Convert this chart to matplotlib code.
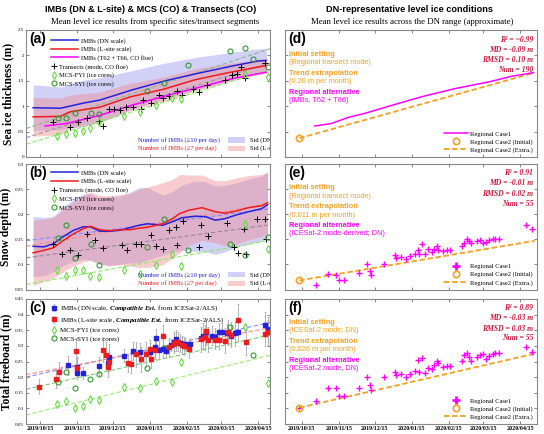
import matplotlib
matplotlib.use('Agg')
import matplotlib.pyplot as plt
from matplotlib.patches import Rectangle
from matplotlib.lines import Line2D
from matplotlib.legend_handler import HandlerLine2D

plt.rcParams['font.family'] = ['Liberation Serif', 'DejaVu Serif']
plt.rcParams['mathtext.fontset'] = 'custom'
plt.rcParams['mathtext.rm'] = 'Liberation Serif'
plt.rcParams['mathtext.it'] = 'Liberation Serif:italic'
plt.rcParams['mathtext.bf'] = 'Liberation Serif:italic:bold'
SANS = ['Liberation Sans', 'DejaVu Sans']

# x values: days since 2019/10/15
tick_days = [0, 31, 61, 92, 123, 152, 183]
tick_labels = ['2019/10/15', '2019/11/15', '2019/12/15', '2020/01/15',
               '2020/02/15', '2020/03/15', '2020/04/15']

# ---- (a) sea ice thickness ----
thk_days = [-6, 17, 36, 50, 77, 105, 133, 161, 183, 190]
thk_dn = [0.97, 0.96, 1.06, 1.12, 1.32, 1.50, 1.65, 1.79, 1.89, 1.90]
thk_dn_std = [0.45, 0.42, 0.45, 0.44, 0.38, 0.35, 0.32, 0.27, 0.24, 0.24]
thk_ls_days = [-6, 17, 25, 50, 75, 103, 130, 158, 185, 190]
thk_ls = [0.79, 0.80, 0.89, 0.98, 1.18, 1.33, 1.52, 1.66, 1.78, 1.80]
thk_ls_std = [0.38, 0.36, 0.33, 0.30, 0.27, 0.24, 0.22, 0.18, 0.15, 0.15]
thk_co_days = [4, 22, 50, 77, 105, 133, 161, 183, 190]
thk_co = [0.61, 0.66, 0.82, 1.02, 1.20, 1.37, 1.54, 1.64, 1.67]
thk_tr_days = [11, 25, 32, 39, 49, 53, 58, 62, 67, 72, 78, 85, 86, 93, 100, 103,
               108, 115, 119, 128, 133, 140, 155, 161, 165, 169, 172, 189]
thk_tr = [0.68, 0.60, 0.68, 0.77, 0.71, 0.61, 0.94, 0.94, 0.93, 0.98, 0.98, 0.94,
          1.12, 1.07, 1.22, 1.16, 1.20, 1.29, 1.22, 1.33, 1.27, 1.42, 1.52, 1.61,
          1.63, 1.78, 1.56, 1.86]
fyi_days = [14, 22, 29, 36, 42, 49, 70, 84, 97, 111, 118, 172, 191]
thk_fyi = [0.42, 0.45, 0.48, 0.52, 0.57, 0.69, 0.81, 0.89, 1.02, 1.17, 1.14, 1.63, 1.58]
syi_days = [15, 22, 29, 43, 49, 90, 104, 124, 159, 172, 179, 191]
thk_syi = [0.76, 0.77, 0.87, 0.86, 0.85, 1.30, 1.46, 1.81, 2.09, 2.14, 1.92, 1.77]
fit_days = [-12, 193]
thk_fit_tr = [0.38, 1.85]
thk_fit_fyi = [0.25, 1.72]
thk_fit_syi = [0.56, 2.13]

# ---- (b) snow depth ----
snw_dn_days = [-6, 3, 11, 19, 28, 36, 42, 50, 58, 67, 75, 83, 90, 103, 111, 119,
               130, 139, 147, 155, 164, 175, 186, 191]
snw_dn = [0.136, 0.135, 0.141, 0.155, 0.168, 0.175, 0.175, 0.166, 0.166, 0.168,
          0.173, 0.178, 0.181, 0.178, 0.185, 0.193, 0.196, 0.195, 0.188, 0.191,
          0.198, 0.205, 0.211, 0.219]
snw_dn_std = [0.060, 0.058, 0.055, 0.058, 0.062, 0.065, 0.066, 0.066, 0.068, 0.068,
              0.070, 0.075, 0.072, 0.060, 0.060, 0.065, 0.070, 0.070, 0.068, 0.066,
              0.064, 0.065, 0.065, 0.065]
snw_ls_days = [-6, 3, 11, 19, 28, 36, 42, 50, 58, 67, 75, 83, 90, 103, 111, 117,
               125, 136, 147, 155, 164, 175, 186, 191]
snw_ls = [0.123, 0.128, 0.133, 0.147, 0.161, 0.171, 0.176, 0.169, 0.167, 0.169,
          0.169, 0.172, 0.174, 0.181, 0.191, 0.201, 0.208, 0.213, 0.205, 0.202,
          0.206, 0.213, 0.217, 0.223]
snw_ls_std = [0.065, 0.062, 0.060, 0.062, 0.064, 0.066, 0.068, 0.068, 0.070, 0.070,
              0.072, 0.078, 0.080, 0.082, 0.078, 0.078, 0.070, 0.065, 0.062, 0.065,
              0.066, 0.064, 0.062, 0.060]
snw_tr_days = [11, 18, 25, 32, 39, 46, 53, 69, 73, 80, 85, 93, 97, 103, 108, 114,
               115, 120, 133, 135, 141, 157, 163, 166, 171, 173, 182, 189, 190]
snw_tr = [0.140, 0.120, 0.129, 0.119, 0.161, 0.148, 0.133, 0.138, 0.128, 0.141,
          0.140, 0.158, 0.136, 0.131, 0.168, 0.175, 0.138, 0.186, 0.135, 0.178,
          0.157, 0.183, 0.135, 0.123, 0.171, 0.121, 0.191, 0.190, 0.151]
snw_fyi = [0.089, 0.077, 0.089, 0.089, 0.077, 0.074, 0.089, 0.080, 0.098, 0.121,
           0.097, 0.180, 0.130]
snw_syi_days = [15, 22, 29, 43, 49, 90, 104, 124, 159, 172, 191]
snw_syi = [0.152, 0.178, 0.112, 0.141, 0.098, 0.135, 0.191, 0.128, 0.141, 0.118, 0.155]
snw_fit_dn = [0.147, 0.211]
snw_fit_ls = [0.136, 0.221]
snw_fit_tr = [0.113, 0.179]
snw_fit_fyi = [0.060, 0.148]

# ---- (c) total freeboard ----
fb_dn_days = [23, 31, 31, 36, 49, 57, 58, 70, 78, 84, 92, 96, 97, 100, 103, 106,
              110, 112, 114, 117, 119, 122, 126, 135, 137, 139, 144, 147, 150, 153,
              157, 160, 164, 166, 189, 191]
fb_dn = [0.238, 0.234, 0.213, 0.213, 0.236, 0.245, 0.266, 0.269, 0.284, 0.280,
         0.280, 0.296, 0.325, 0.287, 0.290, 0.284, 0.303, 0.314, 0.322, 0.309,
         0.307, 0.305, 0.305, 0.324, 0.332, 0.343, 0.333, 0.328, 0.343, 0.343,
         0.341, 0.333, 0.341, 0.346, 0.368, 0.354]
fb_dn_err = [0.03, 0.03, 0.02, 0.02, 0.03, 0.03, 0.04, 0.02, 0.03, 0.03, 0.03, 0.03,
             0.03, 0.03, 0.03, 0.02, 0.02, 0.03, 0.03, 0.03, 0.02, 0.02, 0.02, 0.03,
             0.04, 0.04, 0.03, 0.03, 0.03, 0.03, 0.03, 0.03, 0.04, 0.03, 0.04, 0.04]
fb_ls_days = [-1, 13, 16, 30, 31, 53, 55, 57, 58, 74, 76, 80, 85, 89, 92, 93, 96,
              103, 108, 112, 114, 116, 119, 121, 125, 135, 138, 139, 141, 147, 150,
              155, 158, 160, 166, 173, 189, 191]
fb_ls = [0.170, 0.195, 0.218, 0.285, 0.230, 0.287, 0.271, 0.232, 0.250, 0.245,
         0.242, 0.274, 0.257, 0.274, 0.290, 0.258, 0.287, 0.332, 0.296, 0.307,
         0.314, 0.314, 0.303, 0.300, 0.290, 0.322, 0.328, 0.347, 0.319, 0.319,
         0.320, 0.317, 0.343, 0.336, 0.384, 0.311, 0.339, 0.343]
fb_ls_err = [0.025, 0.03, 0.03, 0.04, 0.03, 0.04, 0.04, 0.03, 0.03, 0.03, 0.03, 0.04,
             0.04, 0.04, 0.03, 0.03, 0.03, 0.035, 0.03, 0.03, 0.03, 0.03, 0.03, 0.03,
             0.03, 0.04, 0.04, 0.04, 0.04, 0.03, 0.03, 0.04, 0.04, 0.04, 0.05, 0.04,
             0.04, 0.04]
fb_fyi = [0.113, 0.125, 0.100, 0.109, 0.130, 0.126, 0.170, 0.164, 0.189, 0.183,
          0.247, 0.362, 0.180]
fb_syi_days = [15, 22, 29, 42, 49, 90, 104, 124, 159, 179]
fb_syi = [0.184, 0.218, 0.164, 0.194, 0.210, 0.228, 0.293, 0.298, 0.362, 0.271]
fb_fit_dn = [0.200, 0.375]
fb_fit_ls = [0.208, 0.358]
fb_fit_syi = [0.161, 0.335]
fb_fit_fyi = [0.079, 0.270]

# ---- (d)-(f) regional ----
reg_fit_days = [-2, 195]
d_case1_days = [11, 25, 39, 53, 73, 101, 129, 157, 176, 194]
d_case1 = [0.61, 0.66, 0.78, 0.86, 1.00, 1.19, 1.35, 1.48, 1.59, 1.66]
d_case2 = [0.37, 1.66]
reg_days = [12, 22, 29, 31, 35, 48, 55, 57, 58, 69, 78, 79, 83, 87, 91, 95, 97, 98,
            101, 103, 106, 109, 111, 113, 114, 118, 122, 124, 134, 136, 138, 140,
            142, 147, 149, 152, 154, 157, 160, 162, 165, 188, 193]
e_case1 = [0.058, 0.080, 0.079, 0.068, 0.068, 0.083, 0.100, 0.087, 0.078, 0.100,
           0.118, 0.113, 0.115, 0.111, 0.116, 0.120, 0.128, 0.120, 0.141, 0.120,
           0.131, 0.125, 0.131, 0.136, 0.128, 0.127, 0.128, 0.128, 0.136, 0.143,
           0.150, 0.147, 0.143, 0.147, 0.149, 0.143, 0.145, 0.148, 0.150, 0.151,
           0.151, 0.179, 0.171]
e_case2 = [0.068, 0.147]
f_case1 = [0.125, 0.166, 0.164, 0.140, 0.140, 0.164, 0.200, 0.175, 0.159, 0.200,
           0.215, 0.207, 0.210, 0.202, 0.210, 0.221, 0.255, 0.218, 0.261, 0.213,
           0.229, 0.225, 0.239, 0.252, 0.245, 0.232, 0.236, 0.236, 0.253, 0.271,
           0.277, 0.266, 0.253, 0.266, 0.270, 0.275, 0.258, 0.268, 0.275, 0.277,
           0.277, 0.296, 0.282]
f_case2 = [0.102, 0.275]

BLUE = '#2323dd'
RED = '#ee1c1c'
MAG = '#ff00ff'
FYI_C = '#66dd44'
SYI_C = '#339933'
ORANGE = '#f5a020'
CRIMSON = '#c41e3a'
BAND_B = '#9999ee'
BAND_R = '#f08c96'
LEG_FS = 4.7


class RightMarkerHandler(HandlerLine2D):
    """Put a legend marker near the right end of the handle box."""
    def get_xdata(self, legend, xdescent, ydescent, width, height, fontsize):
        xdata = [-xdescent, -xdescent + width]
        return xdata, [-xdescent + width * 0.88]


fig = plt.figure(figsize=(5.44, 4.34), dpi=100)
L0, LW = 26 / 544, 244 / 544
R0, RW = 285 / 544, 252 / 544
rows = [(1 - 157 / 434, 127 / 434), (1 - 289.5 / 434, 125.5 / 434),
        (1 - 424 / 434, 125 / 434)]
ax_a = fig.add_axes([L0, rows[0][0], LW, rows[0][1]])
ax_b = fig.add_axes([L0, rows[1][0], LW, rows[1][1]])
ax_c = fig.add_axes([L0, rows[2][0], LW, rows[2][1]])
ax_d = fig.add_axes([R0, rows[0][0], RW, rows[0][1]])
ax_e = fig.add_axes([R0, rows[1][0], RW, rows[1][1]])
ax_f = fig.add_axes([R0, rows[2][0], RW, rows[2][1]])


def style_axis(ax, xlim, ylim, yticks, show_x, show_y):
    ax.set_xlim(xlim)
    ax.set_ylim(ylim)
    ax.set_xticks(tick_days)
    ax.set_yticks(yticks)
    if show_x:
        ax.set_xticklabels(tick_labels, fontsize=4.3, fontweight='bold')
    else:
        ax.set_xticklabels([])
    if show_y:
        ax.set_yticklabels([f'{t:g}' for t in yticks], fontsize=3.6)
    else:
        ax.set_yticklabels([])
    ax.tick_params(direction='in', top=True, right=True, length=2.5,
                   width=0.5, pad=1.5, colors='#555555', labelcolor='black')
    for sp in ax.spines.values():
        sp.set_color('#888888')
        sp.set_linewidth(0.8)


def keep_legend(ax, leg):
    # detach from ax.legend_ so several legends can live on one axes,
    # each drawn only once
    ax.legend_ = None
    ax.add_artist(leg)


def panel_letter(ax, s):
    ax.text(0.012, 0.985, s, transform=ax.transAxes, ha='left', va='top',
            fontsize=10, fontweight='bold', family=SANS)


def number_legend(ax, y1, y2):
    # std legend sits at the lower right and is clipped by the axes, as in the source
    for y, txt, c, band_c, lab in [(y1, 'Number of IMBs (≥10 per day)', BLUE, BAND_B, 'Std (DN)'),
                                   (y2, 'Number of IMBs (≥7 per day)', RED, BAND_R, 'Std (L-site)')]:
        ax.text(0.459, y, txt, transform=ax.transAxes, color=c, fontsize=LEG_FS,
                va='center')
        ax.add_patch(Rectangle((0.827, y - 0.02), 0.071, 0.04, transform=ax.transAxes,
                               facecolor=band_c, alpha=0.45, edgecolor='none'))
        ax.text(0.918, y, lab, transform=ax.transAxes, fontsize=LEG_FS,
                va='center', clip_on=True)


def line_legend(ax, handles, labels, top):
    leg = ax.legend(handles, labels, loc='upper left', bbox_to_anchor=(0.09, top),
                    fontsize=LEG_FS, frameon=False, handlelength=4.2,
                    labelspacing=0.42, handletextpad=0.45, borderaxespad=0)
    keep_legend(ax, leg)


def marker_legend(ax, handles, labels, top, fs=LEG_FS, spacing=0.42):
    leg = ax.legend(handles, labels, loc='upper left', bbox_to_anchor=(0.09, top),
                    fontsize=fs, frameon=False, handlelength=0.9,
                    labelspacing=spacing, handletextpad=0.4, borderaxespad=0)
    keep_legend(ax, leg)


def band(ax, days, mean, std, color):
    lo = [m - s for m, s in zip(mean, std)]
    hi = [m + s for m, s in zip(mean, std)]
    ax.fill_between(days, lo, hi, color=color, alpha=0.45, lw=0)


mk_tr = dict(ls='none', marker='+', color='black', ms=4, mew=0.7)
mk_fyi = dict(ls='none', marker='d', mfc='none', mec=FYI_C, ms=3.8, mew=0.8)
mk_syi = dict(ls='none', marker='o', mfc='none', mec=SYI_C, ms=3.6, mew=0.8)
DASH = (0, (4, 2))

# (a)
ax = ax_a
band(ax, thk_days, thk_dn, thk_dn_std, BAND_B)
band(ax, thk_ls_days, thk_ls, thk_ls_std, BAND_R)
ax.plot(fit_days, thk_fit_syi, ls=DASH, color='#88bb88', lw=0.8)
ax.plot(fit_days, thk_fit_tr, ls=DASH, color='#999999', lw=0.8)
ax.plot(fit_days, thk_fit_fyi, ls=DASH, color='#88ee66', lw=0.8)
l1, = ax.plot(thk_days, thk_dn, color=BLUE, lw=1.1)
l2, = ax.plot(thk_ls_days, thk_ls, color=RED, lw=1.1)
l3, = ax.plot(thk_co_days, thk_co, color=MAG, lw=1.1)
l4, = ax.plot(thk_tr_days, thk_tr, **mk_tr)
l5, = ax.plot(fyi_days, thk_fyi, **mk_fyi)
l6, = ax.plot(syi_days, thk_syi, **mk_syi)
style_axis(ax, (-12, 193), (0, 2.5), [0, 0.5, 1, 1.5, 2, 2.5], False, True)
line_legend(ax, [l1, l2, l3], ['IMBs (DN scale)', 'IMBs (L-site scale)',
                               'IMBs (T62 + T66, CO floe)'], 0.96)
marker_legend(ax, [l4, l5, l6], ['Transects (mode, CO floe)',
                                 'MCS-FYI (ice cores)', 'MCS-SYI (ice cores)'], 0.755)
number_legend(ax, 0.134, 0.067)
panel_letter(ax, '(a)')
ax.set_ylabel('Sea ice thickness (m)', fontsize=8.3, fontweight='bold', labelpad=2)

# (b)
ax = ax_b
band(ax, snw_dn_days, snw_dn, snw_dn_std, BAND_B)
band(ax, snw_ls_days, snw_ls, snw_ls_std, BAND_R)
ax.plot(fit_days, snw_fit_dn, ls=DASH, color='#8888ff', lw=0.8)
ax.plot(fit_days, snw_fit_ls, ls=DASH, color='#ff8888', lw=0.8)
ax.plot(fit_days, snw_fit_tr, ls=DASH, color='#998899', lw=0.8)
ax.plot(fit_days, snw_fit_fyi, ls=DASH, color='#88ee66', lw=0.8)
l1, = ax.plot(snw_dn_days, snw_dn, color=BLUE, lw=1.1)
l2, = ax.plot(snw_ls_days, snw_ls, color=RED, lw=1.1)
l4, = ax.plot(snw_tr_days, snw_tr, **mk_tr)
l5, = ax.plot(fyi_days, snw_fyi, **mk_fyi)
l6, = ax.plot(snw_syi_days, snw_syi, **mk_syi)
style_axis(ax, (-12, 193), (0.05, 0.3), [0.05, 0.1, 0.15, 0.2, 0.25, 0.3],
           False, True)
line_legend(ax, [l1, l2], ['IMBs (DN scale)', 'IMBs (L-site scale)'], 0.975)
marker_legend(ax, [l4, l5, l6], ['Transects (mode, CO floe)',
                                 'MCS-FYI (ice cores)', 'MCS-SYI (ice cores)'], 0.835)
number_legend(ax, 0.116, 0.048)
panel_letter(ax, '(b)')
ax.set_ylabel('Snow depth (m)', fontsize=8.3, fontweight='bold', labelpad=2)

# (c)
ax = ax_c
ax.plot(fit_days, fb_fit_dn, ls=DASH, color='#8888ff', lw=0.8)
ax.plot(fit_days, fb_fit_ls, ls=DASH, color='#ff8888', lw=0.8)
ax.plot(fit_days, fb_fit_syi, ls=DASH, color='#77cc77', lw=0.8)
ax.plot(fit_days, fb_fit_fyi, ls=DASH, color='#99ee77', lw=0.8)
e1 = ax.errorbar(fb_dn_days, fb_dn, yerr=fb_dn_err, fmt='s', color=BLUE, ms=2.2,
                 ecolor='#aaaaaa', elinewidth=0.6, capsize=0.8, capthick=0.5)
e2 = ax.errorbar(fb_ls_days, fb_ls, yerr=fb_ls_err, fmt='s', color=RED, ms=2.2,
                 ecolor='#aaaaaa', elinewidth=0.6, capsize=0.8, capthick=0.5)
l5, = ax.plot(fyi_days, fb_fyi, **mk_fyi)
l6, = ax.plot(fb_syi_days, fb_syi, **mk_syi)
style_axis(ax, (-12, 193), (0.05, 0.45),
           [0.05, 0.1, 0.15, 0.2, 0.25, 0.3, 0.35, 0.4, 0.45], True, True)
marker_legend(ax, [e1, e2, l5, l6],
              ['IMBs (DN scale, $\\bf{Compatible\\ Est.}$ from ICESat-2/ALS)',
               'IMBs (L-site scale, $\\bf{Compatible\\ Est.}$ from ICESat-2/ALS)',
               'MCS-FYI (ice cores)', 'MCS-SYI (ice cores)'], 0.985, fs=5, spacing=0.3)
panel_letter(ax, '(c)')
ax.set_ylabel('Total freeboard (m)', fontsize=8.3, fontweight='bold', labelpad=2)


def regional_text(ax, init_note, trend_note, alt_note, stats):
    items = [('Initial setting', 'bold', ORANGE, 0.81),
             (init_note, 'normal', ORANGE, 0.745),
             ('Trend extrapolation', 'bold', ORANGE, 0.66),
             (trend_note, 'normal', ORANGE, 0.593),
             ('Regional alternative', 'bold', MAG, 0.51),
             (alt_note, 'normal', MAG, 0.443)]
    for s, w, c, y in items:
        ax.text(0.017, y, s, transform=ax.transAxes, fontsize=5.3, fontweight=w,
                color=c, family=SANS, va='center')
    for s, y in zip(stats, [0.925, 0.845, 0.762, 0.685]):
        ax.text(0.985, y, s, transform=ax.transAxes, fontsize=5.5,
                fontweight='bold', style='italic', color=CRIMSON, ha='right',
                va='center')


def regional_legend(ax, h1):
    h2 = Line2D([], [], ls='none', marker='o', mfc='none', mec=ORANGE, ms=4.5, mew=1.2)
    h3 = Line2D([], [], ls=(0, (3, 1.5)), color=ORANGE, lw=1.3)
    ax.legend([h1, h2, h3], ['Regional Case1', 'Regional Case2 (Initial)',
                             'Regional Case2 (Extra.)'],
              loc='lower right', fontsize=4.7, frameon=False, handlelength=3.8,
              labelspacing=0.35, handletextpad=0.3, borderaxespad=0.2,
              handler_map={Line2D: RightMarkerHandler()})


# (d)
ax = ax_d
ax.plot(reg_fit_days, d_case2, ls=(0, (3, 1.5)), color=ORANGE, lw=1.3)
ax.plot(reg_fit_days[:1], d_case2[:1], ls='none', marker='o', mfc='none',
        mec=ORANGE, ms=4.5, mew=1.2)
ax.plot(d_case1_days, d_case1, color=MAG, lw=1.1)
style_axis(ax, (-14, 197), (0, 2.5), [0, 0.5, 1, 1.5, 2, 2.5], False, False)
regional_text(ax, '(Regional transect mode)', '(0.20 m per month)',
              '(IMBs, T62 + T66)',
              ['R² = ~0.99', 'MD = -0.09 m', 'RMSD = 0.10 m', 'Num = 190'])
regional_legend(ax, Line2D([], [], color=MAG, lw=1.1))
panel_letter(ax, '(d)')

# (e)
ax = ax_e
ax.plot(reg_fit_days, e_case2, ls=(0, (3, 1.5)), color=ORANGE, lw=1.3)
ax.plot(reg_fit_days[:1], e_case2[:1], ls='none', marker='o', mfc='none',
        mec=ORANGE, ms=4.5, mew=1.2)
ax.plot(reg_days, e_case1, ls='none', marker='+', color=MAG, ms=4, mew=1)
style_axis(ax, (-14, 197), (0.05, 0.3), [0.05, 0.1, 0.15, 0.2, 0.25, 0.3],
           False, False)
regional_text(ax, '(Regional transect mode)', '(0.011 m per month)',
              '(ICESat-2 mode-derived; DN)',
              ['R² = 0.91', 'MD = -0.01 m', 'RMSD = 0.02 m', 'Num = 55'])
regional_legend(ax, Line2D([], [], ls='none', marker='+', color=MAG, ms=6, mew=2))
panel_letter(ax, '(e)')

# (f)
ax = ax_f
ax.plot(reg_fit_days, f_case2, ls=(0, (3, 1.5)), color=ORANGE, lw=1.3)
ax.plot(reg_fit_days[:1], f_case2[:1], ls='none', marker='o', mfc='none',
        mec=ORANGE, ms=4.5, mew=1.2)
ax.plot(reg_fit_days[:1], f_case2[:1], ls='none', marker='+', color=MAG, ms=3, mew=0.8)
ax.plot(reg_days, f_case1, ls='none', marker='+', color=MAG, ms=4, mew=1)
style_axis(ax, (-14, 197), (0.05, 0.45),
           [0.05, 0.1, 0.15, 0.2, 0.25, 0.3, 0.35, 0.4, 0.45], True, False)
regional_text(ax, '(ICESat-2 mode; DN)', '(0.026 m per month)',
              '(ICESat-2 mode, DN)',
              ['R² = 0.89', 'MD = -0.03 m', 'RMSD = 0.03 m', 'Num = 55'])
regional_legend(ax, Line2D([], [], ls='none', marker='+', color=MAG, ms=6, mew=2))
panel_letter(ax, '(f)')

# column headings
fig.text(151 / 544, 1 - 10 / 434, 'IMBs (DN & L-site) & MCS (CO) & Transects (CO)',
         ha='center', va='center', fontsize=6.6, fontweight='bold', family=SANS)
fig.text(155 / 544, 1 - 22 / 434,
         'Mean level ice results from specific sites/transect segments',
         ha='center', va='center', fontsize=6.3)
fig.text(409 / 544, 1 - 10 / 434, 'DN-representative level ice conditions',
         ha='center', va='center', fontsize=6.6, fontweight='bold', family=SANS)
fig.text(412 / 544, 1 - 22 / 434,
         'Mean level ice results across the DN range (approximate)',
         ha='center', va='center', fontsize=6.3)

fig.savefig('out.png', dpi=100)
